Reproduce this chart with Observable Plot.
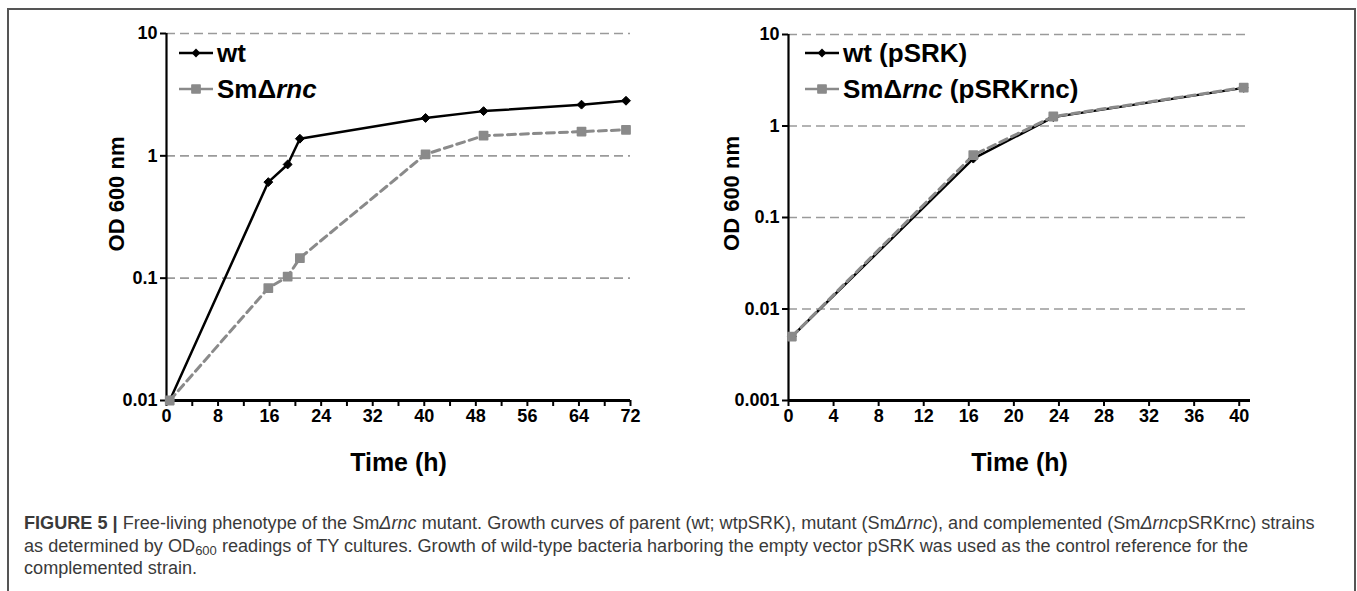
<!DOCTYPE html>
<html>
<head>
<meta charset="utf-8">
<script src="https://cdn.jsdelivr.net/npm/d3@7"></script>
<script src="https://cdn.jsdelivr.net/npm/@observablehq/plot@0.6"></script>
<style>
  body { margin: 0; background: #fff; }
  #fig { position: relative; width: 1357px; height: 591px; overflow: hidden; background: #fff;
         font-family: "Liberation Sans", Arial, Helvetica, sans-serif; }
  .panel { position: absolute; top: 0; }
  .legend { position: absolute; font-weight: bold; font-size: 26px; color: #000; line-height: 1; }
  .legend .row { display: flex; align-items: center; height: 36px; white-space: nowrap; }
  .legend svg { margin-right: 4px; overflow: visible; }
  #border { position: absolute; left: 7px; top: 8px; width: 1345px; height: 640px;
            border: 2px solid #555; pointer-events: none; }
  #caption { position: absolute; left: 24px; top: 512px; font-size: 16px; line-height: 22.5px;
             color: #3a3a3a; white-space: nowrap; }
  #caption sub { font-size: 0.72em; vertical-align: -0.25em; line-height: 0; }
</style>
</head>
<body>
<div id="fig">
  <div id="left" class="panel" style="left:0px"></div>
  <div id="right" class="panel" style="left:680px"></div>
  <div id="legendLeft" class="legend" style="left:179px; top:35px"></div>
  <div id="legendRight" class="legend" style="left:805px; top:35px"></div>
  <div id="caption">
    <span id="capLine1"><b>FIGURE 5 |</b> Free-living phenotype of the Sm<i>Δrnc</i> mutant. Growth curves of parent (wt; wtpSRK), mutant (Sm<i>Δrnc</i>), and complemented (Sm<i>Δrnc</i>pSRKrnc) strains</span><br>
    <span>as determined by OD<sub>600</sub> readings of TY cultures. Growth of wild-type bacteria harboring the empty vector pSRK was used as the control reference for the</span><br>
    <span>complemented strain.</span>
  </div>
  <div id="border"></div>
</div>
<script>
// ---- Left panel data: wt vs SmΔrnc ----
const leftTime   = [0.5, 15.8, 18.8, 20.7, 40.2, 49.2, 64.4, 71.3];
const leftWt     = [0.01, 0.61, 0.85, 1.38, 2.04, 2.32, 2.62, 2.82];
const leftMutant = [0.01, 0.083, 0.103, 0.146, 1.03, 1.46, 1.58, 1.63];
const leftXTicks = [0, 4, 8, 12, 16, 20, 24, 28, 32, 36, 40, 44, 48, 52, 56, 60, 64, 68, 72];
const leftXLabels = ["0", "", "8", "", "16", "", "24", "", "32", "", "40", "", "48", "", "56", "", "64", "", "72"];
const leftYTicks = [0.01, 0.1, 1, 10];
const leftYLabels = ["0.01", "0.1", "1", "10"];
const leftGrid = [0.1, 1, 10];

// ---- Right panel data: wt (pSRK) vs SmΔrnc (pSRKrnc) ----
const rightTime = [0.3, 16.4, 23.5, 40.4];
const rightWt   = [0.005, 0.44, 1.25, 2.61];
const rightComp = [0.005, 0.48, 1.27, 2.63];
const rightXTicks = [0, 4, 8, 12, 16, 20, 24, 28, 32, 36, 40];
const rightXLabels = ["0", "4", "8", "12", "16", "20", "24", "28", "32", "36", "40"];
const rightYTicks = [0.001, 0.01, 0.1, 1, 10];
const rightYLabels = ["0.001", "0.01", "0.1", "1", "10"];
const rightGrid = [0.01, 0.1, 1, 10];

const xTitle = "Time (h)";
const yTitle = "OD 600 nm";

const WT_COLOR = "#000000";
const MUT_COLOR = "#8a8a8a";
const GRID_COLOR = "#9a9a9a";

function panel(o) {
  const wtRows = o.time.map((t, i) => ({time: t, od: o.wt[i]}));
  const mutRows = o.time.map((t, i) => ({time: t, od: o.mut[i]}));
  return Plot.plot({
    width: o.width, height: 480,
    marginLeft: o.ml, marginRight: o.mr, marginTop: o.mt, marginBottom: 80,
    style: {background: "transparent", color: "#000", fontFamily: "'Liberation Sans', Arial, sans-serif"},
    x: {domain: o.xDomain, axis: null},
    y: {type: "log", domain: o.yDomain, axis: null},
    marks: [
      Plot.ruleY(o.grid, {stroke: GRID_COLOR, strokeWidth: 1.6, strokeDasharray: "9,5"}),
      Plot.axisY({ticks: o.yTicks, tickFormat: d => o.yLabels[o.yTicks.indexOf(d)], tickSize: 6,
                  tickPadding: 3, fontSize: 18, fontWeight: "bold", strokeWidth: 2, label: null}),
      Plot.axisX({ticks: o.xTicks, tickFormat: d => o.xLabels[o.xTicks.indexOf(d)], tickSize: 6,
                  tickPadding: 3, fontSize: 18, fontWeight: "bold", strokeWidth: 2, label: null}),
      Plot.ruleX([o.xDomain[0]], {stroke: "#000", strokeWidth: 2.2}),
      Plot.ruleY([o.yDomain[0]], {stroke: "#000", strokeWidth: 3}),
      Plot.line(wtRows, {x: "time", y: "od", stroke: WT_COLOR, strokeWidth: 2.5}),
      Plot.line(mutRows, {x: "time", y: "od", stroke: MUT_COLOR, strokeWidth: 3, strokeDasharray: "8,5"}),
      Plot.dot(wtRows, {x: "time", y: "od", symbol: "diamond2", r: 4, fill: WT_COLOR, stroke: WT_COLOR, strokeWidth: 1}),
      Plot.dot(mutRows, {x: "time", y: "od", symbol: "square", r: 4.6, fill: MUT_COLOR, stroke: MUT_COLOR,
                         strokeWidth: 1.6, strokeLinejoin: "round"}),
      Plot.text([xTitle], {text: d => d, frameAnchor: "bottom", dy: 62, fontSize: 25, fontWeight: "bold",
                           lineAnchor: "middle", fill: "#000"}),
      Plot.text([yTitle], {text: d => d, frameAnchor: "left", rotate: -90, dx: o.ytDx, dy: o.ytDy, fontSize: 22,
                           fontWeight: "bold", lineAnchor: "middle", textAnchor: "middle", fill: "#000"})
    ]
  });
}

document.getElementById("left").append(panel({
  time: leftTime, wt: leftWt, mut: leftMutant,
  width: 680, ml: 166, mr: 50, mt: 33,
  xDomain: [0, 72], yDomain: [0.01, 10],
  xTicks: leftXTicks, xLabels: leftXLabels, yTicks: leftYTicks, yLabels: leftYLabels, grid: leftGrid,
  ytDx: -50, ytDy: -23
}));

document.getElementById("right").append(panel({
  time: rightTime, wt: rightWt, mut: rightComp,
  width: 677, ml: 108, mr: 107, mt: 34,
  xDomain: [0, 41], yDomain: [0.001, 10],
  xTicks: rightXTicks, xLabels: rightXLabels, yTicks: rightYTicks, yLabels: rightYLabels, grid: rightGrid,
  ytDx: -57, ytDy: -24
}));

// ---- Legends ----
const leftLegend = [
  {label: "wt", italic: null, color: WT_COLOR, symbol: "diamond"},
  {label: "SmΔ", italic: "rnc", rest: "", color: MUT_COLOR, symbol: "square"}
];
const rightLegend = [
  {label: "wt (pSRK)", italic: null, color: WT_COLOR, symbol: "diamond"},
  {label: "SmΔ", italic: "rnc", rest: " (pSRKrnc)", color: MUT_COLOR, symbol: "square"}
];

function buildLegend(el, items) {
  for (const it of items) {
    const row = document.createElement("div");
    row.className = "row";
    const svg = d3.create("svg").attr("width", 34).attr("height", 20);
    svg.append("line").attr("x1", 0).attr("x2", 34).attr("y1", 10).attr("y2", 10)
      .attr("stroke", it.color).attr("stroke-width", 2.5);
    if (it.symbol === "diamond") {
      svg.append("path").attr("transform", "translate(17,10)")
        .attr("d", d3.symbol(d3.symbolDiamond2, 50)()).attr("fill", it.color);
    } else {
      svg.append("path").attr("transform", "translate(17,10)")
        .attr("d", d3.symbol(d3.symbolSquare, 66)()).attr("fill", it.color)
        .attr("stroke", it.color).attr("stroke-width", 1.6).attr("stroke-linejoin", "round");
    }
    row.append(svg.node());
    const span = document.createElement("span");
    span.append(it.label);
    if (it.italic) {
      const i = document.createElement("i");
      i.textContent = it.italic;
      span.append(i);
      span.append(it.rest);
    }
    row.append(span);
    el.append(row);
  }
}
buildLegend(document.getElementById("legendLeft"), leftLegend);
buildLegend(document.getElementById("legendRight"), rightLegend);

// fit the caption's first line to the reference width
const cap = document.getElementById("caption");
const l1 = document.getElementById("capLine1");
const w = l1.getBoundingClientRect().width;
cap.style.fontSize = (16 * 1291 / w).toFixed(2) + "px";
</script>
</body>
</html>
